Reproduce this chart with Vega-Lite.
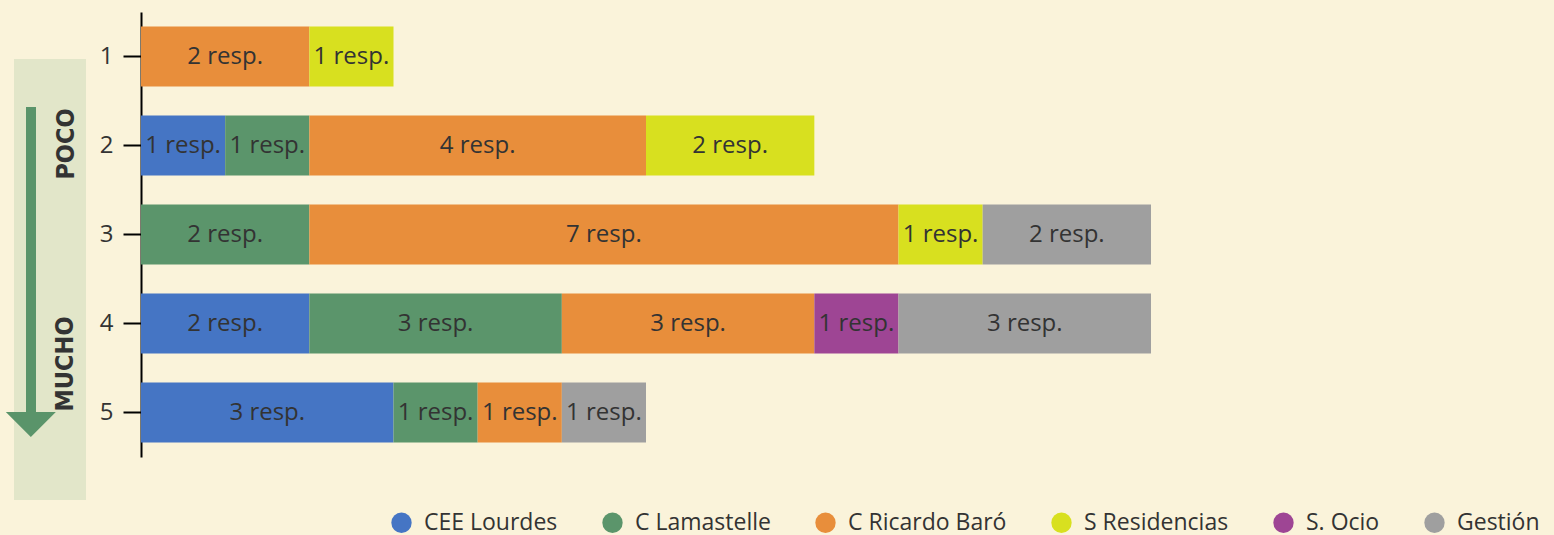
{
  "$schema": "https://vega.github.io/schema/vega-lite/v6.json",
  "background": "#FAF3DA",
  "padding": {"left": 0, "top": 12, "right": 14, "bottom": 2},
  "spacing": 41,
  "bounds": "flush",
  "config": {"view": {"stroke": null}, "font": "Open Sans"},
  "resolve": {"scale": {"x": "independent", "y": "independent", "color": "independent"}},
  "hconcat": [
    {
      "width": 100,
      "height": 488,
      "data": {"values": [{}]},
      "layer": [
        {
          "mark": {"type": "rect", "color": "#E2E6C9"},
          "encoding": {
            "x": {"datum": 0.14, "type": "quantitative", "scale": {"domain": [0, 1], "nice": false, "zero": false}, "axis": null},
            "x2": {"datum": 0.86},
            "y": {"datum": 0.0963, "type": "quantitative", "scale": {"domain": [0, 1], "nice": false, "zero": false, "reverse": true}, "axis": null},
            "y2": {"datum": 1}
          }
        },
        {
          "mark": {"type": "rule", "color": "#5A946A", "strokeWidth": 10},
          "encoding": {
            "x": {"datum": 0.31, "type": "quantitative"},
            "y": {"datum": 0.1947, "type": "quantitative"},
            "y2": {"datum": 0.8197}
          }
        },
        {
          "mark": {"type": "point", "shape": "M-1,-0.5L1,-0.5L0,0.5Z", "filled": true, "color": "#5A946A", "opacity": 1, "size": 2500, "strokeWidth": 0},
          "encoding": {
            "x": {"datum": 0.308, "type": "quantitative"},
            "y": {"datum": 0.8453, "type": "quantitative"}
          }
        },
        {
          "mark": {"type": "text", "text": "POCO", "angle": 270, "font": "DejaVu Sans Condensed", "fontWeight": "bold", "fontSize": 25, "color": "#333333", "align": "center", "baseline": "middle"},
          "encoding": {
            "x": {"datum": 0.66, "type": "quantitative"},
            "y": {"datum": 0.2705, "type": "quantitative"}
          }
        },
        {
          "mark": {"type": "text", "text": "MUCHO", "angle": 270, "font": "DejaVu Sans Condensed", "fontWeight": "bold", "fontSize": 25, "color": "#333333", "align": "center", "baseline": "middle"},
          "encoding": {
            "x": {"datum": 0.65, "type": "quantitative"},
            "y": {"datum": 0.7213, "type": "quantitative"}
          }
        }
      ]
    },
    {
      "width": 1010,
      "height": 445,
      "data": {
        "values": [
          {"nivel": 1, "centro": "C Ricardo Baró", "k": 3, "resp": 2, "label": "2 resp."},
          {"nivel": 1, "centro": "S Residencias", "k": 4, "resp": 1, "label": "1 resp."},
          {"nivel": 2, "centro": "CEE Lourdes", "k": 1, "resp": 1, "label": "1 resp."},
          {"nivel": 2, "centro": "C Lamastelle", "k": 2, "resp": 1, "label": "1 resp."},
          {"nivel": 2, "centro": "C Ricardo Baró", "k": 3, "resp": 4, "label": "4 resp."},
          {"nivel": 2, "centro": "S Residencias", "k": 4, "resp": 2, "label": "2 resp."},
          {"nivel": 3, "centro": "C Lamastelle", "k": 2, "resp": 2, "label": "2 resp."},
          {"nivel": 3, "centro": "C Ricardo Baró", "k": 3, "resp": 7, "label": "7 resp."},
          {"nivel": 3, "centro": "S Residencias", "k": 4, "resp": 1, "label": "1 resp."},
          {"nivel": 3, "centro": "Gestión", "k": 6, "resp": 2, "label": "2 resp."},
          {"nivel": 4, "centro": "CEE Lourdes", "k": 1, "resp": 2, "label": "2 resp."},
          {"nivel": 4, "centro": "C Lamastelle", "k": 2, "resp": 3, "label": "3 resp."},
          {"nivel": 4, "centro": "C Ricardo Baró", "k": 3, "resp": 3, "label": "3 resp."},
          {"nivel": 4, "centro": "S. Ocio", "k": 5, "resp": 1, "label": "1 resp."},
          {"nivel": 4, "centro": "Gestión", "k": 6, "resp": 3, "label": "3 resp."},
          {"nivel": 5, "centro": "CEE Lourdes", "k": 1, "resp": 3, "label": "3 resp."},
          {"nivel": 5, "centro": "C Lamastelle", "k": 2, "resp": 1, "label": "1 resp."},
          {"nivel": 5, "centro": "C Ricardo Baró", "k": 3, "resp": 1, "label": "1 resp."},
          {"nivel": 5, "centro": "Gestión", "k": 6, "resp": 1, "label": "1 resp."}
        ]
      },
      "encoding": {
        "y": {
          "field": "nivel",
          "type": "ordinal",
          "scale": {"paddingInner": 0.326, "paddingOuter": 0.163},
          "axis": {
            "title": null,
            "domainColor": "#000000",
            "domainWidth": 2,
            "tickColor": "#000000",
            "tickWidth": 2,
            "tickSize": 18,
            "labelPadding": 10,
            "labelFontSize": 24,
            "labelColor": "#333333",
            "labelFont": "Open Sans",
            "labelAngle": 0,
            "grid": false
          }
        }
      },
      "layer": [
        {
          "mark": {"type": "bar"},
          "encoding": {
            "x": {"field": "resp", "type": "quantitative", "stack": "zero", "scale": {"domain": [0, 12], "nice": false}, "axis": null},
            "color": {
              "field": "centro",
              "type": "nominal",
              "scale": {
                "domain": ["CEE Lourdes", "C Lamastelle", "C Ricardo Baró", "S Residencias", "S. Ocio", "Gestión"],
                "range": ["#4575C4", "#5B956B", "#E88E3B", "#D8E01F", "#9E4594", "#9F9F9F"]
              },
              "legend": {
                "title": null,
                "orient": "none",
                "legendX": 249,
                "legendY": 499,
                "direction": "horizontal",
                "columns": 6,
                "symbolType": "circle",
                "symbolSize": 415,
                "symbolStrokeWidth": 0,
                "symbolOpacity": 1,
                "labelFontSize": 23,
                "labelColor": "#333333",
                "labelFont": "Open Sans",
                "labelOffset": 11,
                "columnPadding": 43,
                "padding": 0,
                "labelLimit": 300
              }
            },
            "order": {"field": "k", "type": "quantitative"}
          }
        },
        {
          "transform": [
            {"stack": "resp", "groupby": ["nivel"], "sort": [{"field": "k", "order": "ascending"}], "as": ["r0", "r1"]},
            {"fold": ["r0", "r1"], "as": ["edge", "pos"]}
          ],
          "mark": {"type": "text", "fontSize": 24, "color": "#333333", "font": "Open Sans", "align": "center", "baseline": "middle"},
          "encoding": {
            "x": {"field": "pos", "aggregate": "mean", "type": "quantitative", "stack": null},
            "detail": {"field": "centro"},
            "text": {"field": "label"}
          }
        }
      ]
    }
  ]
}
